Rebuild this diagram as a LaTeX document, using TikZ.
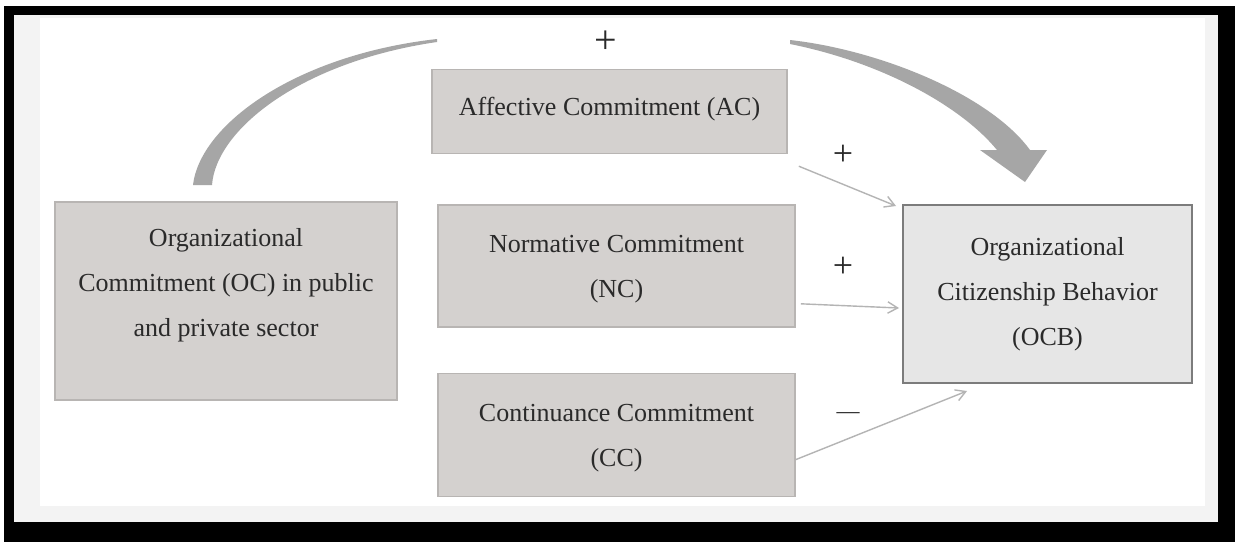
\documentclass[tikz,border=0pt]{standalone}
\usepackage{fontspec}
\setmainfont{Liberation Serif}
\usetikzlibrary{positioning,arrows.meta}

\definecolor{boxfill}{HTML}{D4D1CF}
\definecolor{boxline}{HTML}{B8B5B3}
\definecolor{outfill}{HTML}{E6E6E6}
\definecolor{outline}{HTML}{7C7C7C}
\definecolor{linkgray}{HTML}{B4B4B4}
\definecolor{bigarrow}{HTML}{A6A6A6}
\definecolor{panel}{HTML}{F3F3F3}
\definecolor{txt}{HTML}{2A2A2A}

\begin{document}
\begin{tikzpicture}[
    x = 0.5pt, y = -0.5pt,
    box/.style = {draw=boxline, fill=boxfill, line width=0.8pt, align=center, text=txt, inner sep=0pt, font=\fontsize{13}{22.5}\selectfont},
    outbox/.style = {box, draw=outline, fill=outfill, line width=1pt},
    sign/.style = {text=txt, inner sep=0pt, font=\fontsize{18}{18}\selectfont},
    link/.style = {draw=linkgray, line width=0.7pt},
    > = {Straight Barb[angle=60:5pt 1]}
]
\useasboundingbox (0,0) rectangle (1235,542);
\fill[black] (4,6) rectangle (1235,542);
\fill[panel] (14,15) rectangle (1218,522);
\fill[white] (40,18) rectangle (1205,506);

\node (oc) [box, minimum width=171pt, minimum height=99pt, text depth=19pt] at (226,301) {Organizational\\Commitment (OC) in public\\and private sector};
\node (nc) [box, minimum width=178.5pt, minimum height=61pt, text depth=0pt] at (616.5,266) {Normative Commitment\\(NC)};
\node (ac) [box, minimum width=177.5pt, minimum height=42pt, above=25pt of nc, xshift=-3.5pt, text depth=5pt] {Affective Commitment (AC)};
\node (cc) [box, minimum width=178.5pt, minimum height=61.5pt, below=22.5pt of nc, text depth=0pt] {Continuance Commitment\\(CC)};
\node (ocb) [outbox, minimum width=144.5pt, minimum height=89pt] at (1047.5,294) {Organizational\\Citizenship Behavior\\(OCB)};

% big curved arrow OC -> OCB
\fill[bigarrow] (193,185) .. controls (200,125) and (295,55) .. (437,39)
    -- (437,42) .. controls (300,62) and (216,130) .. (212,185) -- cycle;
\fill[bigarrow] (790,40) .. controls (880,50) and (990,95) .. (1030,150)
    -- (1047,150) -- (1025,182) -- (980,150) -- (997,150)
    .. controls (960,105) and (880,62) .. (790,44) -- cycle;
\node (pbig) [sign, font=\fontsize{20}{20}\selectfont] at (606,42) {+};

\draw[link, ->] ([shift={(11,12)}]ac.south east) to ([shift={(-6,2)}]ocb.north west);
\draw[link, ->] ([shift={(5,-24)}]nc.south east) to ([shift={(-3,14)}]ocb.west);
\draw[link, ->] ([shift={(0,24.5)}]cc.east) to ([shift={(65,7)}]ocb.south west);

\node (pac) [sign] at (843,155) {+};
\node (pnc) [sign] at (843,267) {+};
\node (mcc) [sign, font=\fontsize{11.5}{12}\selectfont] at (848,416) {---};
\end{tikzpicture}
\end{document}
